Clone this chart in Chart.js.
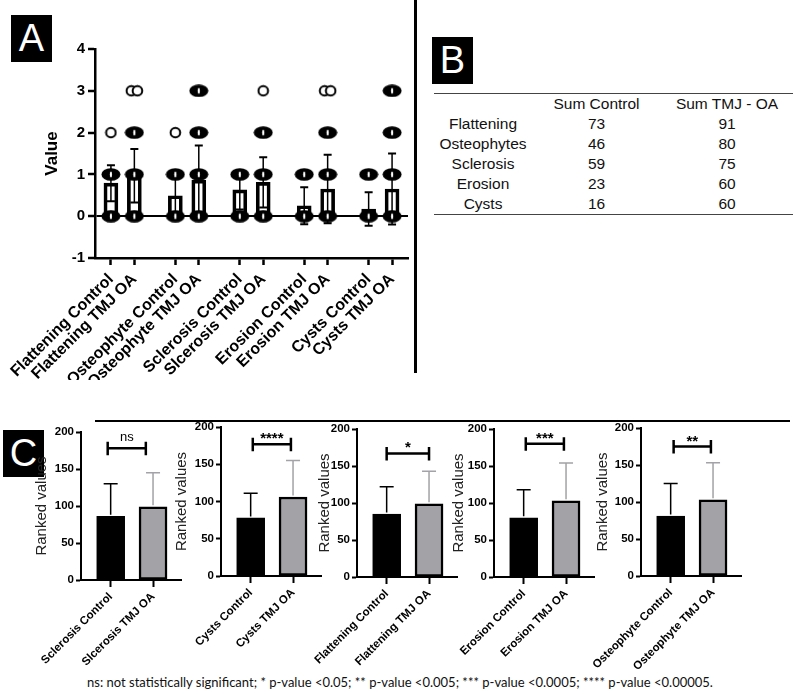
<!DOCTYPE html>
<html>
<head>
<meta charset="utf-8">
<script src="https://cdn.jsdelivr.net/npm/chart.js@4.4.0/dist/chart.umd.min.js"></script>
<style>
  body { margin: 0; width: 800px; height: 694px; background: #fff; position: relative; overflow: hidden;
         font-family: "Liberation Sans", Arial, sans-serif; }
  canvas { position: absolute; }
  .tag { position: absolute; width: 41px; height: 47px; background: #000; color: #fff;
         font-size: 38px; line-height: 47px; text-align: center; }
  .rule { position: absolute; background: #000; }
  #tbl { position: absolute; left: 434px; top: 93px; width: 359px; border-collapse: collapse;
         font-size: 15.5px; color: #111; }
  #tbl td { height: 20px; padding: 0; text-align: center; line-height: 20px; }
  #foot { position: absolute; left: 0; top: 674px; width: 800px; text-align: center;
          font-family: Lato, "Open Sans", sans-serif; font-size: 13px; color: #111; }
</style>
</head>
<body>
<div class="tag" style="left:11px;top:15px">A</div>
<div class="tag" style="left:432px;top:37px">B</div>
<div class="tag" style="left:3px;top:430px">C</div>
<div class="rule" style="left:414px;top:0;width:2.5px;height:373px"></div>
<div class="rule" style="left:95px;top:420px;width:695px;height:2px"></div>

<canvas id="chartA" width="416" height="380" style="left:0;top:0"></canvas>
<table id="tbl"></table>
<canvas id="c0" width="170" height="270"></canvas>
<canvas id="c1" width="170" height="270"></canvas>
<canvas id="c2" width="170" height="270"></canvas>
<canvas id="c3" width="170" height="270"></canvas>
<canvas id="c4" width="170" height="270"></canvas>
<div id="foot">ns: not statistically significant; * p-value &lt;0.05; ** p-value &lt;0.005; *** p-value &lt;0.0005; **** p-value &lt;0.00005.</div>

<script>
// ---- panel A data ----
const aLabels = ['Flattening Control', 'Flattening TMJ OA', 'Osteophyte Control', 'Osteophyte TMJ OA',
  'Sclerosis Control', 'Slcerosis TMJ OA', 'Erosion Control', 'Erosion TMJ OA', 'Cysts Control', 'Cysts TMJ OA']
const aGroup = [0, 0, 1, 1, 2, 2, 3, 3, 4, 4]
const aMember = [0, 1, 0, 1, 0, 1, 0, 1, 0, 1]
const aMean = [0.79, 0.97, 0.49, 0.86, 0.63, 0.81, 0.25, 0.65, 0.17, 0.65]
const aSD = [0.43, 0.64, 0.50, 0.83, 0.47, 0.60, 0.44, 0.82, 0.40, 0.85]
// levels that hold many overlapping points (drawn as a dense cluster)
const aDense = [[0, 1], [0, 1, 2], [0, 1], [0, 1, 2, 3], [0, 1], [0, 1, 2], [0, 1], [0, 1, 2], [0, 1], [0, 1, 2, 3]]
// single points (open circles)
const aSingle = [[2], [3, 3], [2], [], [], [3], [], [3, 3], [], []]
const aTicksY = [-1, 0, 1, 2, 3, 4]

// ---- panel B data ----
const bRows = ['Flattening', 'Osteophytes', 'Sclerosis', 'Erosion', 'Cysts']
const bHead = ['', 'Sum Control', 'Sum TMJ - OA']
const bControl = [73, 46, 59, 23, 16]
const bTmj = [91, 80, 75, 60, 60]

// ---- panel C data ----
const cLabels = [
  ['Sclerosis Control', 'Slcerosis TMJ OA'],
  ['Cysts Control', 'Cysts TMJ OA'],
  ['Flattening Control', 'Flattening TMJ OA'],
  ['Erosion Control', 'Erosion TMJ OA'],
  ['Osteophyte Control', 'Osteophyte TMJ OA']]
const cMean = [[86, 99], [78, 106], [85, 99], [80, 103], [81, 103]]
const cSD = [[44, 46], [33, 49], [37, 44], [38, 51], [44, 50]]
const cSig = ['ns', '****', '*', '***', '**']
const cSigY = [178, 177, 167, 180, 175]
const cSigFrom = [-0.07, 0.05, 0, 0.05, 0.07]
const cSigTo = [0.83, 0.95, 1, 0.95, 0.95]

// ---- layout (pixels) ----
const cAxisX = [81, 221, 357, 494, 641]
const cTopY = [432, 427, 429, 429, 428]
const cZeroY = [580, 576, 577, 577, 576]
const cTitleGap = [39, 39, 32, 35, 38]
const grey = '#a2a2a7'

Chart.defaults.font.family = '"Liberation Sans", Arial, sans-serif'
Chart.defaults.color = '#000'

// table
const tbl = document.getElementById('tbl')
tbl.style.borderTop = '1.5px solid #444'
tbl.style.borderBottom = '1.5px solid #444'
let html = '<colgroup><col style="width:98px"><col style="width:129px"><col style="width:132px"></colgroup>'
html += '<tr>' + bHead.map(h => `<td>${h}</td>`).join('') + '</tr>'
bRows.forEach((r, i) => {
  html += `<tr><td>${r}</td><td>${bControl[i]}</td><td>${bTmj[i]}</td></tr>`
})
tbl.innerHTML = html

// point markers
function denseMark() {
  const c = document.createElement('canvas')
  c.width = 20; c.height = 13
  const g = c.getContext('2d')
  g.fillStyle = '#000'
  g.beginPath(); g.ellipse(10, 6.5, 9.5, 6.3, 0, 0, Math.PI * 2); g.fill()
  g.fillStyle = '#fff'
  g.beginPath(); g.ellipse(10, 6.5, 1.1, 3, 0, 0, Math.PI * 2); g.fill()
  return c
}
function ringMark() {
  const c = document.createElement('canvas')
  c.width = 13; c.height = 13
  const g = c.getContext('2d')
  g.fillStyle = '#fff'; g.strokeStyle = '#000'; g.lineWidth = 2
  g.beginPath(); g.arc(6.5, 6.5, 4.8, 0, Math.PI * 2); g.fill(); g.stroke()
  return c
}
const dense = denseMark()
const ring = ringMark()

const aPos = aGroup.map((g, i) => g * 2.75 + aMember[i])
const densePts = []
aDense.forEach((lv, i) => lv.forEach(v => densePts.push({ x: aPos[i], y: v })))
const singlePts = []
aSingle.forEach((lv, i) => {
  const counts = {}
  lv.forEach(v => counts[v] = (counts[v] || 0) + 1)
  Object.keys(counts).forEach(v => {
    const n = counts[v]
    for (let k = 0; k < n; k++) singlePts.push({ x: aPos[i] + (k - (n - 1) / 2) * 0.26, y: +v })
  })
})

const errorBarsA = {
  id: 'errorBarsA',
  afterDatasetDraw(chart, args) {
    if (args.index !== 0) return
    const { ctx, scales: { x, y } } = chart
    ctx.save()
    ctx.strokeStyle = '#000'
    aMean.forEach((m, i) => {
      const px = x.getPixelForValue(aPos[i])
      const top = y.getPixelForValue(m + aSD[i])
      const bot = y.getPixelForValue(m - aSD[i])
      ctx.lineWidth = 1.5
      ctx.beginPath(); ctx.moveTo(px, top); ctx.lineTo(px, bot); ctx.stroke()
      ctx.lineWidth = 2
      ctx.beginPath()
      ctx.moveTo(px - 4, top); ctx.lineTo(px + 4, top)
      ctx.moveTo(px - 4, bot); ctx.lineTo(px + 4, bot)
      ctx.stroke()
    })
    ctx.restore()
  }
}

new Chart(document.getElementById('chartA'), {
  type: 'bar',
  data: {
    datasets: [
      {
        type: 'bar', order: 2,
        data: aMean.map((m, i) => ({ x: aPos[i], y: m })),
        backgroundColor: 'rgba(0,0,0,0)', borderColor: '#000', borderWidth: 3,
        borderSkipped: false, barThickness: 14
      },
      {
        type: 'scatter', order: 1, data: densePts,
        pointStyle: dense, pointRadius: 6
      },
      {
        type: 'scatter', order: 0, data: singlePts,
        pointStyle: ring, pointRadius: 6
      }
    ]
  },
  options: {
    responsive: false, animation: false,
    layout: { padding: { top: 49, right: 8, left: 0, bottom: 0 } },
    plugins: { legend: { display: false }, tooltip: { enabled: false } },
    scales: {
      x: {
        type: 'linear', min: -0.68, max: 12.68, offset: false,
        afterBuildTicks: s => { s.ticks = aPos.map(v => ({ value: v })) },
        afterFit: s => { s.height = 122; s.paddingLeft = 0; s.paddingRight = 0 },
        grid: { offset: false, drawOnChartArea: false, color: '#000', tickLength: 7, tickWidth: 2.5 },
        border: { color: '#000', width: 2.5 },
        ticks: {
          autoSkip: false, minRotation: 45, maxRotation: 45, padding: 5,
          font: { size: 16, weight: 'bold' },
          callback: (v, i) => aLabels[i]
        }
      },
      y: {
        min: -1, max: 4,
        afterBuildTicks: s => { s.ticks = aTicksY.map(v => ({ value: v })) },
        afterFit: s => { s.width = 95 },
        grid: {
          color: c => (c.tick && c.tick.value === 0) ? '#000' : 'rgba(0,0,0,0)',
          lineWidth: 2, tickColor: '#000', tickLength: 7, tickWidth: 2.5
        },
        border: { color: '#000', width: 2.5 },
        ticks: { font: { size: 15, weight: 'bold' }, padding: 3 },
        title: { display: true, text: 'Value', font: { size: 17, weight: 'bold' }, padding: { top: 42, bottom: 0 } }
      }
    }
  },
  plugins: [errorBarsA]
})

// ---- panel C charts ----
function makeC(k) {
  const cv = document.getElementById('c' + k)
  const left = cAxisX[k] - 60
  cv.style.left = left + 'px'
  cv.style.top = '400px'
  const colors = ['#000', grey]

  const extras = {
    id: 'extrasC' + k,
    afterDatasetsDraw(chart) {
      const { ctx, scales: { x, y } } = chart
      ctx.save()
      // error bars (upper only)
      cMean[k].forEach((m, i) => {
        const px = x.getPixelForValue(i)
        const top = y.getPixelForValue(m + cSD[k][i])
        const base = y.getPixelForValue(m) - 1.5
        ctx.strokeStyle = colors[i]
        ctx.lineWidth = 1.5
        ctx.beginPath(); ctx.moveTo(px, base); ctx.lineTo(px, top)
        ctx.moveTo(px - 7, top); ctx.lineTo(px + 7, top); ctx.stroke()
      })
      // significance bracket
      const x0 = x.getPixelForValue(cSigFrom[k])
      const x1 = x.getPixelForValue(cSigTo[k])
      const yy = y.getPixelForValue(cSigY[k])
      ctx.strokeStyle = '#000'
      ctx.lineWidth = 2.5
      ctx.beginPath()
      ctx.moveTo(x0, yy); ctx.lineTo(x1, yy)
      ctx.moveTo(x0, yy - 6.5); ctx.lineTo(x0, yy + 7)
      ctx.moveTo(x1, yy - 6.5); ctx.lineTo(x1, yy + 7)
      ctx.stroke()
      ctx.fillStyle = '#000'
      ctx.textAlign = 'center'
      ctx.textBaseline = 'alphabetic'
      if (cSig[k] === 'ns') {
        ctx.font = '13px "Liberation Sans", Arial, sans-serif'
        ctx.fillText(cSig[k], (x0 + x1) / 2, yy - 7)
      } else {
        ctx.font = 'bold 15px "Liberation Sans", Arial, sans-serif'
        ctx.fillText(cSig[k], (x0 + x1) / 2, yy - 1)
      }
      ctx.restore()
    }
  }

  new Chart(cv, {
    type: 'bar',
    data: {
      datasets: [{
        data: cMean[k].map((m, i) => ({ x: i, y: m })),
        backgroundColor: colors, borderColor: '#000', borderWidth: 2.5,
        borderSkipped: false, barThickness: 28
      }]
    },
    options: {
      responsive: false, animation: false,
      layout: { padding: { top: cTopY[k] - 400, right: 10, left: 0, bottom: 0 } },
      plugins: { legend: { display: false }, tooltip: { enabled: false } },
      scales: {
        x: {
          type: 'linear', min: -0.7, max: 1.66, offset: false,
          afterBuildTicks: s => { s.ticks = [{ value: 0 }, { value: 1 }] },
          afterFit: s => { s.height = 270 - (cZeroY[k] - 400); s.paddingLeft = 0; s.paddingRight = 0 },
          grid: { offset: false, drawOnChartArea: false, color: '#000', tickLength: 7, tickWidth: 2 },
          border: { color: '#000', width: 2 },
          ticks: {
            autoSkip: false, minRotation: 45, maxRotation: 45, padding: 3,
            font: { size: 11.5, weight: 'bold' },
            callback: (v, i) => cLabels[k][i]
          }
        },
        y: {
          min: 0, max: 200,
          ticks: { stepSize: 50, font: { size: 11.5, weight: 'bold' }, padding: 2 },
          afterFit: s => { s.width = 60 },
          grid: { drawOnChartArea: false, color: '#000', tickLength: 5, tickWidth: 2 },
          border: { color: '#000', width: 2 },
          title: {
            display: true, text: 'Ranked values', color: '#222',
            font: { size: 15 }, padding: { top: 60 - cTitleGap[k] - 9, bottom: 0 }
          }
        }
      }
    },
    plugins: [extras]
  })
}
for (let k = 0; k < 5; k++) makeC(k)
</script>
</body>
</html>
